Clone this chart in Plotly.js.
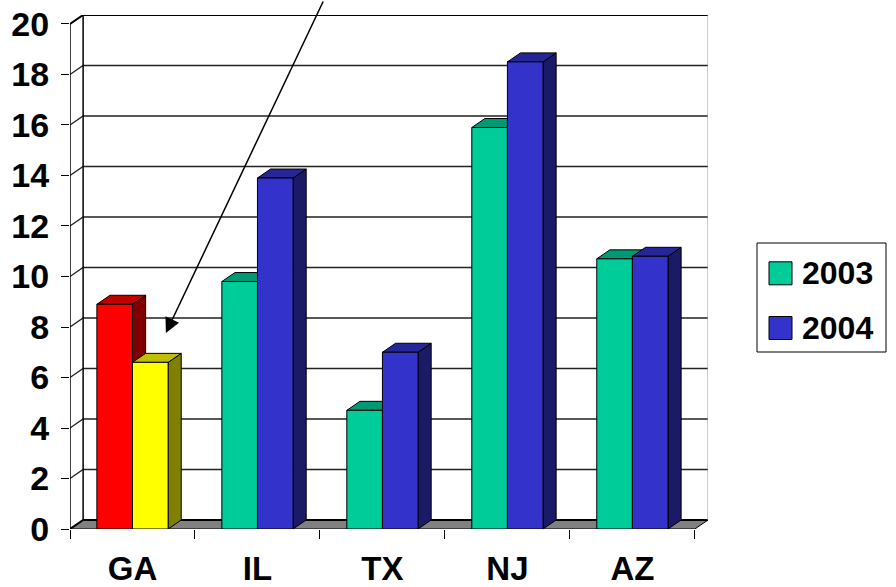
<!DOCTYPE html>
<html>
<head>
<meta charset="utf-8">
<script src="https://cdn.plot.ly/plotly-3.0.1.min.js"></script>
<style>html,body{margin:0;padding:0;background:#fff;}#chart{width:896px;height:587px;}</style>
</head>
<body>
<div id="chart"></div>
<script>
// ---- data ----
const categories = ['GA', 'IL', 'TX', 'NJ', 'AZ'];
const seriesNames = ['2003', '2004'];
const values2003 = [8.9, 9.8, 4.7, 15.9, 10.7];
const values2004 = [6.6, 13.9, 7.0, 18.5, 10.8];
const yTicks = [0, 2, 4, 6, 8, 10, 12, 14, 16, 18, 20];

// ---- style ----
const seriesColors = ['#00CC99', '#3333CC'];
const highlightColors = ['#FF0000', '#FFFF00']; // GA bars
const highlightIndex = 0;
const FONT = {family: 'Arial, "Liberation Sans", sans-serif', color: '#000', weight: 'bold'};

// geometry of the 3D look (in axis units)
const W = 0.285;    // bar width (category units)
const DX = 0.105;   // depth offset x
const DY = 0.356;   // depth offset y
const X0 = -0.5, X1 = categories.length - 0.5;
const YMAX = yTicks[yTicks.length - 1];

function shade(hex, f) {
  const n = parseInt(hex.slice(1), 16);
  const r = Math.round(((n >> 16) & 255) * f), g = Math.round(((n >> 8) & 255) * f), b = Math.round((n & 255) * f);
  return 'rgb(' + r + ',' + g + ',' + b + ')';
}

function poly(xs, ys, fill) {
  return {
    type: 'scatter', mode: 'lines', x: xs.concat([xs[0]]), y: ys.concat([ys[0]]),
    fill: 'toself', fillcolor: fill, line: {color: '#000', width: 1},
    hoverinfo: 'skip', showlegend: false
  };
}

const allValues = [values2003, values2004];
const traces = [];
categories.forEach(function (cat, i) {
  allValues.forEach(function (vals, s) {
    const v = vals[i];
    const base = (i === highlightIndex) ? highlightColors[s] : seriesColors[s];
    const a = i + (s === 0 ? -W : 0), b = a + W;
    // side face
    traces.push(poly([b, b + DX, b + DX, b], [0, DY, v + DY, v], shade(base, 0.5)));
    // top face
    traces.push(poly([a, b, b + DX, a + DX], [v, v, v + DY, v + DY], shade(base, 0.75)));
    // front face
    traces.push(poly([a, b, b, a], [0, 0, v, v], base));
  });
});

// ---- walls, floor, gridlines (shapes below traces) ----
const shapes = [];
shapes.push({type: 'path', xref: 'x', yref: 'y', layer: 'below',
  path: 'M' + X0 + ',0 L' + X1 + ',0 L' + (X1 + DX) + ',' + DY + ' L' + (X0 + DX) + ',' + DY + ' Z',
  fillcolor: '#808080', line: {color: '#000', width: 1}});
yTicks.forEach(function (t) {
  const heavy = (t === 0 || t === YMAX);
  shapes.push({type: 'path', xref: 'x', yref: 'y', layer: 'below',
    path: 'M' + X0 + ',' + t + ' L' + (X0 + DX) + ',' + (t + DY) + ' L' + (X1 + DX) + ',' + (t + DY),
    line: {color: heavy ? '#000' : '#222', width: heavy ? 2 : 1.3}});
});
shapes.push({type: 'line', xref: 'x', yref: 'y', layer: 'below', x0: X0 + DX, x1: X0 + DX, y0: DY, y1: YMAX + DY, line: {color: '#000', width: 1.5}});
shapes.push({type: 'line', xref: 'x', yref: 'y', layer: 'below', x0: X1 + DX, x1: X1 + DX, y0: DY, y1: YMAX + DY, line: {color: '#9a9a9a', width: 1}});
shapes.push({type: 'line', xref: 'x', yref: 'y', layer: 'below', x0: X0, x1: X0, y0: 0, y1: YMAX, line: {color: '#000', width: 1.5}});

// ---- custom legend (paper coords) ----
const W_PLOT = 638, H_PLOT = 514, ML = 70, MT = 15;
function px(xp) { return (xp - ML) / W_PLOT; }
function py(yp) { return (MT + H_PLOT - yp) / H_PLOT; }
shapes.push({type: 'rect', xref: 'paper', yref: 'paper', x0: px(757), x1: px(886), y0: py(243), y1: py(352),
  line: {color: '#000', width: 1}, fillcolor: '#fff'});
const annotations = [];
seriesNames.forEach(function (name, s) {
  const yc = 273.3 + s * 54.7;
  shapes.push({type: 'rect', xref: 'paper', yref: 'paper', x0: px(769), x1: px(792), y0: py(yc - 11.5), y1: py(yc + 11.5),
    line: {color: '#000', width: 1}, fillcolor: seriesColors[s]});
  annotations.push({xref: 'paper', yref: 'paper', x: px(800), y: py(yc), xanchor: 'left', yanchor: 'middle',
    text: '<b>' + name + '</b>', showarrow: false, font: Object.assign({}, FONT, {size: 32})});
});

// arrow pointing at the GA 2004 bar
annotations.push({xref: 'x', yref: 'y', x: 0.267, y: 7.76, text: '', showarrow: true,
  arrowhead: 2, arrowsize: 2, arrowwidth: 1.5, arrowcolor: '#000', ax: 158, ay: -340, standoff: 0});

const catCenters = categories.map(function (c, i) { return i; });
const catBounds = [];
for (let i = 0; i <= categories.length; i++) catBounds.push(i - 0.5);

const layout = {
  width: 896, height: 587,
  margin: {l: ML, r: 896 - ML - W_PLOT, t: MT, b: 587 - MT - H_PLOT},
  paper_bgcolor: '#fff', plot_bgcolor: 'rgba(0,0,0,0)',
  showlegend: false,
  font: FONT,
  xaxis: {range: [X0, X1 + DX], tickmode: 'array', tickvals: catBounds, showticklabels: false,
    ticks: 'outside', ticklen: 9, tickcolor: '#000', tickwidth: 1, showgrid: false, zeroline: false, showline: false, fixedrange: true},
  xaxis2: {range: [X0, X1 + DX], overlaying: 'x', side: 'bottom', anchor: 'y', tickmode: 'array', tickvals: catCenters,
    ticktext: categories.map(function (c) { return '<b>' + c + '</b>'; }),
    ticks: '', ticklabelstandoff: 17, showgrid: false, zeroline: false, showline: false, tickfont: Object.assign({}, FONT, {size: 33}), fixedrange: true},
  yaxis: {range: [0, YMAX + DY], tickmode: 'array', tickvals: yTicks, ticktext: yTicks.map(function (t) { return '<b>' + t + '</b>'; }),
    ticks: 'outside', ticklen: 8, tickcolor: '#000', tickwidth: 1,
    showgrid: false, zeroline: false, showline: false, tickfont: Object.assign({}, FONT, {size: 34}), ticklabelstandoff: 5, fixedrange: true},
  shapes: shapes,
  annotations: annotations
};

// invisible reference trace so the overlaid category axis is drawn
traces.push({type: 'scatter', x: catCenters, y: values2003, xaxis: 'x2', yaxis: 'y', mode: 'markers',
  marker: {opacity: 0}, hoverinfo: 'skip', showlegend: false});

Plotly.newPlot('chart', traces, layout, {staticPlot: true, displayModeBar: false});
</script>
</body>
</html>
